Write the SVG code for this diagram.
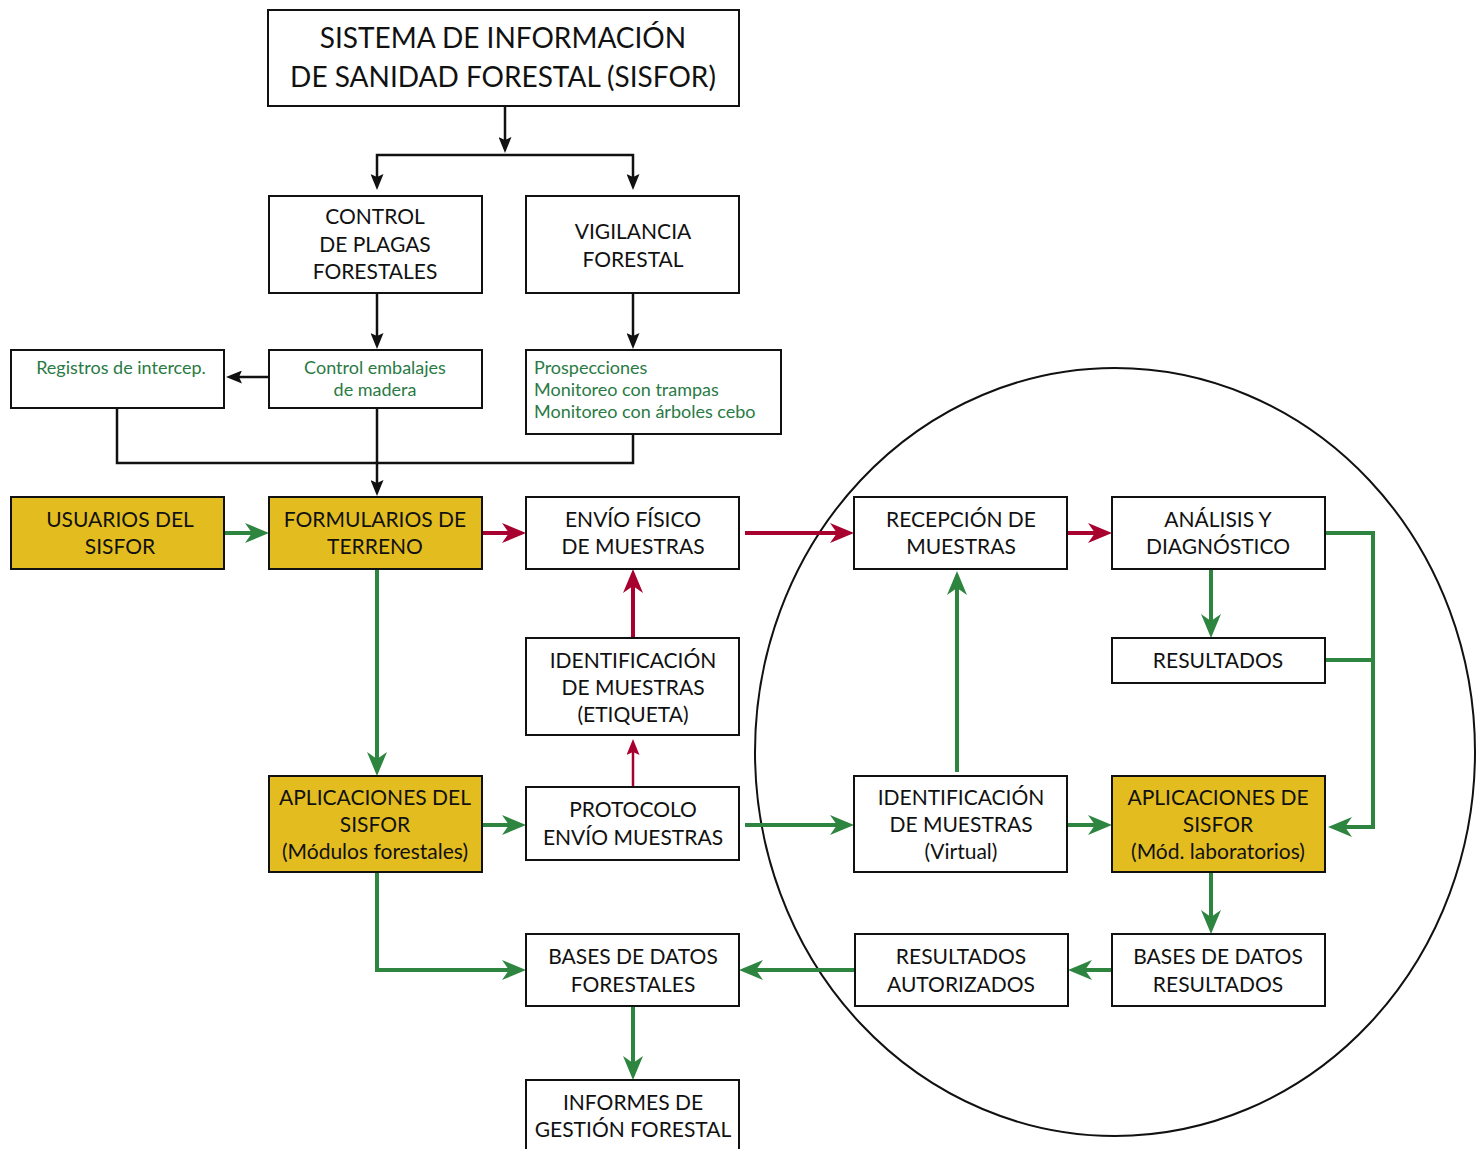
<svg xmlns="http://www.w3.org/2000/svg" width="1483" height="1149" viewBox="0 0 1483 1149">
<style>
.box{fill:#fff;stroke:#111;stroke-width:2}
.yel{fill:#E3BD20;stroke:#111;stroke-width:2}
text{font-family:Lato,"Liberation Sans",sans-serif;font-size:21px;fill:#111;text-anchor:middle}
.t{font-size:28px}
.g{font-size:18px;fill:#2A7A45}
.gl{font-size:18px;fill:#2A7A45;text-anchor:start}
.kb{fill:none;stroke:#111;stroke-width:2.5}
.kg{fill:none;stroke:#2E8540;stroke-width:4}
.kr{fill:none;stroke:#A8002F;stroke-width:4}
.kr2{fill:none;stroke:#A8002F;stroke-width:2.5}
</style>
<defs>
<marker id="ab" viewBox="0 0 16 13" refX="9" refY="6.5" markerWidth="16" markerHeight="13" markerUnits="userSpaceOnUse" orient="auto"><path d="M0,0 L16,6.5 L0,13 L3,6.5 z" fill="#111"/></marker>
<marker id="ag" viewBox="0 0 24 20" refX="15" refY="10" markerWidth="24" markerHeight="20" markerUnits="userSpaceOnUse" orient="auto"><path d="M0,0 L24,10 L0,20 L7,10 z" fill="#2E8540"/></marker>
<marker id="ar" viewBox="0 0 24 20" refX="15" refY="10" markerWidth="24" markerHeight="20" markerUnits="userSpaceOnUse" orient="auto"><path d="M0,0 L24,10 L0,20 L7,10 z" fill="#A8002F"/></marker>
<marker id="ar2" viewBox="0 0 16 13" refX="9" refY="6.5" markerWidth="16" markerHeight="13" markerUnits="userSpaceOnUse" orient="auto"><path d="M0,0 L16,6.5 L0,13 L3,6.5 z" fill="#A8002F"/></marker>
</defs>
<ellipse cx="1115" cy="752" rx="360" ry="384" fill="none" stroke="#111" stroke-width="2"/>
<g id="connectors">
<path class="kb" d="M505,106 V146" marker-end="url(#ab)"/>
<path class="kb" d="M505,155 H377 V183" marker-end="url(#ab)"/>
<path class="kb" d="M505,155 H633 V183" marker-end="url(#ab)"/>
<path class="kb" d="M377,293 V342" marker-end="url(#ab)"/>
<path class="kb" d="M633,293 V342" marker-end="url(#ab)"/>
<path class="kb" d="M269,377 H233" marker-end="url(#ab)"/>
<path class="kb" d="M117,408 V463 H633 V434"/>
<path class="kb" d="M377,408 V489" marker-end="url(#ab)"/>
<path class="kg" d="M224,533 H260" marker-end="url(#ag)"/>
<path class="kg" d="M377,569 V767" marker-end="url(#ag)"/>
<path class="kg" d="M482,825 H517" marker-end="url(#ag)"/>
<path class="kg" d="M745,825 H845" marker-end="url(#ag)"/>
<path class="kg" d="M1067,825 H1103" marker-end="url(#ag)"/>
<path class="kg" d="M957,772 V580" marker-end="url(#ag)"/>
<path class="kg" d="M1325,533 H1373 V827 H1337" marker-end="url(#ag)"/>
<path class="kg" d="M1325,660 H1373"/>
<path class="kg" d="M1211,569 V629" marker-end="url(#ag)"/>
<path class="kg" d="M1211,872 V925" marker-end="url(#ag)"/>
<path class="kg" d="M377,872 V970 H517" marker-end="url(#ag)"/>
<path class="kg" d="M855,970 H748" marker-end="url(#ag)"/>
<path class="kg" d="M1112,970 H1077" marker-end="url(#ag)"/>
<path class="kg" d="M633,1006 V1071" marker-end="url(#ag)"/>
<path class="kr" d="M482,533 H517" marker-end="url(#ar)"/>
<path class="kr" d="M745,533 H845" marker-end="url(#ar)"/>
<path class="kr" d="M1067,533 H1103" marker-end="url(#ar)"/>
<path class="kr" d="M633,638 V578" marker-end="url(#ar)"/>
<path class="kr2" d="M633,786 V746" marker-end="url(#ar2)"/>
</g>
<g id="sisfor"><rect class="box" x="268" y="10" width="471" height="96"/><text class="t" x="503" y="48">SISTEMA DE INFORMACIÓN</text><text class="t" x="503" y="87">DE SANIDAD FORESTAL (SISFOR)</text></g>
<g id="control"><rect class="box" x="269" y="196" width="213" height="97"/><text x="375" y="224">CONTROL</text><text x="375" y="252">DE PLAGAS</text><text x="375" y="279">FORESTALES</text></g>
<g id="vigilancia"><rect class="box" x="526" y="196" width="213" height="97"/><text x="633" y="239">VIGILANCIA</text><text x="633" y="267">FORESTAL</text></g>
<g id="registros"><rect class="box" x="11" y="350" width="213" height="58"/><text class="g" x="121" y="374">Registros de intercep.</text></g>
<g id="embalajes"><rect class="box" x="269" y="350" width="213" height="58"/><text class="g" x="375" y="374">Control embalajes</text><text class="g" x="375" y="396">de madera</text></g>
<g id="prospecciones"><rect class="box" x="526" y="350" width="255" height="84"/><text class="gl" x="534" y="374">Prospecciones</text><text class="gl" x="534" y="396">Monitoreo con trampas</text><text class="gl" x="534" y="418">Monitoreo con árboles cebo</text></g>
<g id="usuarios"><rect class="yel" x="11" y="497" width="213" height="72"/><text x="120" y="527">USUARIOS DEL</text><text x="120" y="554">SISFOR</text></g>
<g id="formularios"><rect class="yel" x="269" y="497" width="213" height="72"/><text x="375" y="527">FORMULARIOS DE</text><text x="375" y="554">TERRENO</text></g>
<g id="envio"><rect class="box" x="526" y="497" width="213" height="72"/><text x="633" y="527">ENVÍO FÍSICO</text><text x="633" y="554">DE MUESTRAS</text></g>
<g id="recepcion"><rect class="box" x="854" y="497" width="213" height="72"/><text x="961" y="527">RECEPCIÓN DE</text><text x="961" y="554">MUESTRAS</text></g>
<g id="analisis"><rect class="box" x="1112" y="497" width="213" height="72"/><text x="1218" y="527">ANÁLISIS Y</text><text x="1218" y="554">DIAGNÓSTICO</text></g>
<g id="resultados"><rect class="box" x="1112" y="638" width="213" height="45"/><text x="1218" y="668">RESULTADOS</text></g>
<g id="etiqueta"><rect class="box" x="526" y="638" width="213" height="97"/><text x="633" y="668">IDENTIFICACIÓN</text><text x="633" y="695">DE MUESTRAS</text><text x="633" y="722">(ETIQUETA)</text></g>
<g id="apl-forestales"><rect class="yel" x="269" y="776" width="213" height="96"/><text x="375" y="805">APLICACIONES DEL</text><text x="375" y="832">SISFOR</text><text x="375" y="859">(Módulos forestales)</text></g>
<g id="protocolo"><rect class="box" x="526" y="787" width="213" height="73"/><text x="633" y="817">PROTOCOLO</text><text x="633" y="845">ENVÍO MUESTRAS</text></g>
<g id="virtual"><rect class="box" x="854" y="776" width="213" height="96"/><text x="961" y="805">IDENTIFICACIÓN</text><text x="961" y="832">DE MUESTRAS</text><text x="961" y="859">(Virtual)</text></g>
<g id="apl-laboratorios"><rect class="yel" x="1112" y="776" width="213" height="96"/><text x="1218" y="805">APLICACIONES DE</text><text x="1218" y="832">SISFOR</text><text x="1218" y="859">(Mód. laboratorios)</text></g>
<g id="bd-forestales"><rect class="box" x="526" y="934" width="213" height="72"/><text x="633" y="964">BASES DE DATOS</text><text x="633" y="992">FORESTALES</text></g>
<g id="autorizados"><rect class="box" x="855" y="934" width="213" height="72"/><text x="961" y="964">RESULTADOS</text><text x="961" y="992">AUTORIZADOS</text></g>
<g id="bd-resultados"><rect class="box" x="1112" y="934" width="213" height="72"/><text x="1218" y="964">BASES DE DATOS</text><text x="1218" y="992">RESULTADOS</text></g>
<g id="informes"><rect class="box" x="526" y="1080" width="213" height="80"/><text x="633" y="1110">INFORMES DE</text><text x="633" y="1137">GESTIÓN FORESTAL</text></g>
</svg>
